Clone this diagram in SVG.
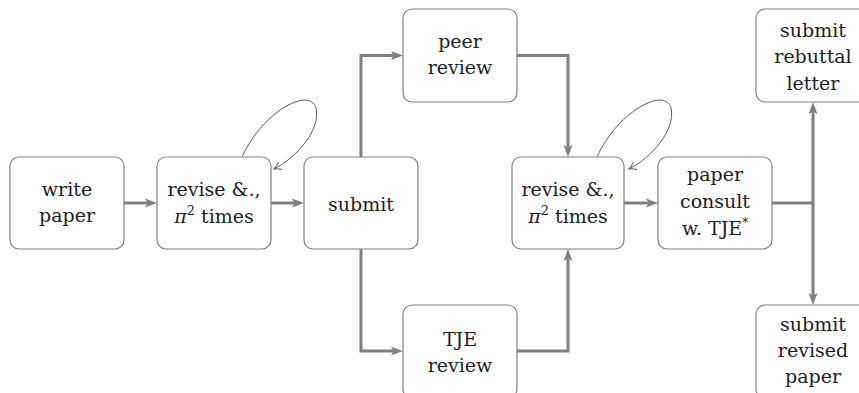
<svg xmlns="http://www.w3.org/2000/svg" width="859" height="393" viewBox="0 0 859 393">
<style>
.box{fill:#fff;stroke:#808080;stroke-width:1.2}
.t{font-family:"DejaVu Serif","Liberation Serif",serif;font-size:19px;fill:#1c1c28;text-anchor:middle}
.e{fill:none;stroke:#808080;stroke-width:3}
.loop{fill:none;stroke:#5a5a5a;stroke-width:1}
</style>
<defs>
<marker id="ah" markerUnits="userSpaceOnUse" markerWidth="14" markerHeight="12" refX="5" refY="5" orient="auto-start-reverse" viewBox="0 0 14 12">
<path d="M0,0.5 L12,5 L0,9.5 L2.5,5 Z" fill="#808080"/>
</marker>
<marker id="oh" markerUnits="userSpaceOnUse" markerWidth="12" markerHeight="12" refX="8" refY="5" orient="auto" viewBox="0 0 12 12">
<path d="M1,1 Q5,4 8,5 Q5,6 1,9" fill="none" stroke="#5a5a5a" stroke-width="1"/>
</marker>
</defs>
<g id="connectors">
<path class="e" d="M124,203 H150" marker-end="url(#ah)"/>
<path class="e" d="M271,203 H297" marker-end="url(#ah)"/>
<path class="e" d="M361,157 V55.5 H396" marker-end="url(#ah)"/>
<path class="e" d="M361,249 V351 H396" marker-end="url(#ah)"/>
<path class="e" d="M517,55.5 H568 V150" marker-end="url(#ah)"/>
<path class="e" d="M517,351 H568 V256" marker-end="url(#ah)"/>
<path class="e" d="M624,203 H651" marker-end="url(#ah)"/>
<path class="e" d="M772,203 H813"/>
<path class="e" d="M813,109 V298" marker-start="url(#ah)" marker-end="url(#ah)"/>
<path class="loop" d="M242,157 C262,112 310,86 316,108 C321,130 296,158 274,169" marker-end="url(#oh)"/>
<path class="loop" d="M597,157 C617,112 665,86 671,108 C676,130 651,158 629,169" marker-end="url(#oh)"/>
</g>
<g id="write">
<rect class="box" x="10" y="157" width="114" height="92" rx="9"/>
<text class="t" x="67" y="196">write</text>
<text class="t" x="67" y="222">paper</text>
</g>
<g id="revise1">
<rect class="box" x="157" y="157" width="114" height="92" rx="9"/>
<text class="t" x="214" y="196">revise &amp;.,</text>
<text class="t" x="214" y="223"><tspan font-style="italic">π</tspan><tspan font-size="13" dy="-8">2</tspan><tspan dy="8"> times</tspan></text>
</g>
<g id="submit">
<rect class="box" x="304" y="157" width="114" height="92" rx="9"/>
<text class="t" x="361" y="211">submit</text>
</g>
<g id="peer">
<rect class="box" x="403" y="9" width="114" height="93" rx="9"/>
<text class="t" x="460" y="48">peer</text>
<text class="t" x="460" y="74">review</text>
</g>
<g id="tje">
<rect class="box" x="403" y="305" width="114" height="93" rx="9"/>
<text class="t" x="460" y="346">TJE</text>
<text class="t" x="460" y="372">review</text>
</g>
<g id="revise2">
<rect class="box" x="512" y="157" width="112" height="92" rx="9"/>
<text class="t" x="568" y="196">revise &amp;.,</text>
<text class="t" x="568" y="223"><tspan font-style="italic">π</tspan><tspan font-size="13" dy="-8">2</tspan><tspan dy="8"> times</tspan></text>
</g>
<g id="consult">
<rect class="box" x="658" y="157" width="114" height="92" rx="9"/>
<text class="t" x="715" y="181">paper</text>
<text class="t" x="715" y="208">consult</text>
<text class="t" x="715" y="235">w. TJE<tspan font-size="12" dy="-8">*</tspan></text>
</g>
<g id="rebuttal">
<rect class="box" x="756" y="9" width="114" height="93" rx="9"/>
<text class="t" x="813" y="37">submit</text>
<text class="t" x="813" y="63">rebuttal</text>
<text class="t" x="813" y="90">letter</text>
</g>
<g id="revised">
<rect class="box" x="756" y="305" width="114" height="93" rx="9"/>
<text class="t" x="813" y="331">submit</text>
<text class="t" x="813" y="357">revised</text>
<text class="t" x="813" y="383">paper</text>
</g>
</svg>
